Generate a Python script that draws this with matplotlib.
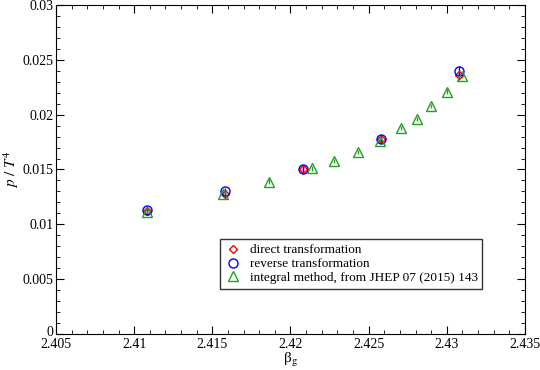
import matplotlib
matplotlib.use('Agg')
import matplotlib.pyplot as plt
import matplotlib.transforms as mtransforms
from matplotlib.ticker import MultipleLocator

plt.rcParams['font.family'] = ['Liberation Serif', 'DejaVu Serif']
plt.rcParams['mathtext.fontset'] = 'stix'

# direct / reverse transformation
beta_dr = [2.4108, 2.4158, 2.4208, 2.4258, 2.4308]
p_direct = [0.0112, 0.0128, 0.0150, 0.0178, 0.0236]
p_reverse = [0.0113, 0.0130, 0.0150, 0.0178, 0.0240]
err_dr = [0.0003, 0.0003, 0.0003, 0.0003, 0.0004]

# integral method
beta_int = [2.4108, 2.4157, 2.4186, 2.4214, 2.4228, 2.4243, 2.4257,
            2.4271, 2.4281, 2.4290, 2.4300, 2.4310]
p_int = [0.0111, 0.0128, 0.0139, 0.0151, 0.0158, 0.0166, 0.0176,
         0.0188, 0.0196, 0.0208, 0.0221, 0.0235]
err_int = [0.0002] * len(beta_int)

green = '#22a022'

fig = plt.figure(figsize=(5.4, 3.7), dpi=100)
ax = fig.add_axes([0.1037, 0.0973, 0.8685, 0.8892])

# error bars (not in legend)
ax.errorbar(beta_dr, p_direct, yerr=err_dr, fmt='none', ecolor='red', elinewidth=1, capsize=0)
ax.errorbar(beta_dr, p_reverse, yerr=err_dr, fmt='none', ecolor='blue', elinewidth=1, capsize=0)
ax.errorbar(beta_int, p_int, yerr=err_int, fmt='none', ecolor=green, elinewidth=1, capsize=0)

ax.plot(beta_dr, p_direct, 'D', ms=4.5, mfc='none', mec='red', mew=1,
        label='direct transformation')
ax.plot(beta_dr, p_reverse, 'o', ms=6.5, mfc='none', mec='blue', mew=1,
        label='reverse transformation')
ax.plot(beta_int, p_int, '^', ms=6.5, mfc='none', mec=green, mew=1,
        label='integral method, from JHEP 07 (2015) 143')

ax.set_xlim(2.405, 2.435)
ax.set_ylim(0, 0.03)
ax.xaxis.set_minor_locator(MultipleLocator(0.001))
ax.yaxis.set_minor_locator(MultipleLocator(0.001))
ax.set_xticks([2.405, 2.41, 2.415, 2.42, 2.425, 2.43, 2.435])
ax.set_xticklabels(['2.405', '2.41', '2.415', '2.42', '2.425', '2.43', '2.435'])
ax.set_yticks([0, 0.005, 0.01, 0.015, 0.02, 0.025, 0.03])
ax.set_yticklabels(['0', '0.005', '0.01', '0.015', '0.02', '0.025', '0.03'])
ax.tick_params(which='both', direction='in', top=True, right=True, labelsize=10)
ax.tick_params(axis='x', pad=3)
ax.tick_params(axis='y', pad=2)
ax.tick_params(which='major', length=6)
ax.tick_params(which='minor', length=3)

# lift the "0" label a little so it clears "2.405"
lbl0 = ax.get_yticklabels()[0]
lbl0.set_transform(lbl0.get_transform() + mtransforms.ScaledTranslation(0, 3 / 100, fig.dpi_scale_trans))

ax.set_xlabel(r'β$_\mathrm{g}$', fontsize=11, labelpad=0)
ax.set_ylabel(r'$p\ /\ T^4$', fontsize=11)
ax.yaxis.set_label_coords(-0.075, 0.5)

leg = ax.legend(loc='lower left', bbox_to_anchor=(0.336, 0.118), fontsize=9.5,
                frameon=True, fancybox=False, edgecolor='black', handlelength=1.2,
                handletextpad=0.7, borderpad=0.35, labelspacing=0.12)
leg.get_frame().set_linewidth(1)

fig.savefig('out.png', dpi=100)
